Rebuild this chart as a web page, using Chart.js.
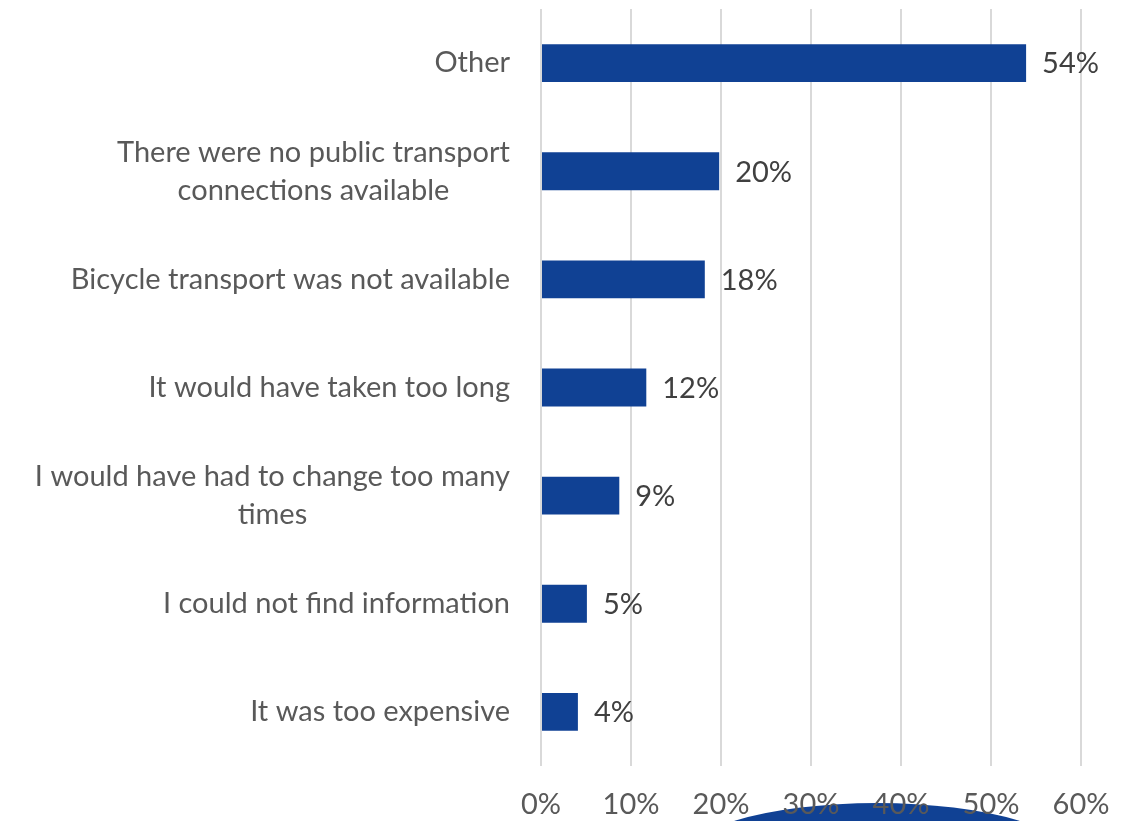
<!DOCTYPE html>
<html>
<head>
<meta charset="utf-8">
<script src="https://cdn.jsdelivr.net/npm/chart.js@4"></script>
<style>
  body { margin: 0; background: #fff; }
</style>
</head>
<body>
<canvas id="bar_chart" width="1135" height="821"></canvas>
<script>
// categories (top to bottom), multi-line ones split into arrays
const categories = [
    'Other',
    ['There were no public transport', 'connections available'],
    'Bicycle transport was not available',
    'It would have taken too long',
    ['I would have had to change too many', 'times'],
    'I could not find information',
    'It was too expensive'
];
const shares = [53.9, 19.8, 18.2, 11.7, 8.7, 5.1, 4.1];
const xTicks = [0, 10, 20, 30, 40, 50, 60];

const FONT = 'Lato, "Open Sans", sans-serif';
const barColor = 'rgb(16, 65, 148)';

// value labels next to each bar
const valueLabels = {
    id: 'valueLabels',
    afterDatasetsDraw(chart) {
        const ctx = chart.ctx;
        const meta = chart.getDatasetMeta(0);
        ctx.save();
        ctx.font = '29px ' + FONT;
        ctx.fillStyle = '#404040';
        ctx.textAlign = 'left';
        ctx.textBaseline = 'middle';
        meta.data.forEach((bar, i) => {
            ctx.fillText(Math.round(shares[i]) + '%', bar.x + 16, bar.y + 1);
        });
        ctx.restore();
    }
};

// category labels: block right-aligned to the axis, lines centred inside the block
const categoryLabels = {
    id: 'categoryLabels',
    afterDraw(chart) {
        const ctx = chart.ctx;
        const yScale = chart.scales.y;
        const right = chart.chartArea.left - 31;
        const lineH = 38;
        ctx.save();
        ctx.font = '29px ' + FONT;
        ctx.fillStyle = '#595959';
        ctx.textAlign = 'center';
        ctx.textBaseline = 'middle';
        categories.forEach((lab, i) => {
            const lines = Array.isArray(lab) ? lab : [lab];
            const w = Math.max(...lines.map(l => ctx.measureText(l).width));
            const cx = right - w / 2;
            const y0 = yScale.getPixelForTick(i) - (lines.length - 1) * lineH / 2;
            lines.forEach((l, j) => ctx.fillText(l, cx, y0 + j * lineH));
        });
        ctx.restore();
    }
};

// blue blob at the bottom edge of the original image
const bottomBlob = {
    id: 'bottomBlob',
    beforeDraw(chart) {
        const ctx = chart.ctx;
        ctx.save();
        ctx.fillStyle = barColor;
        ctx.beginPath();
        ctx.ellipse(877, 863, 200, 60, 0, 0, Math.PI * 2);
        ctx.fill();
        ctx.restore();
    }
};

new Chart(document.getElementById('bar_chart').getContext('2d'), {
    type: 'bar',
    data: {
        labels: categories,
        datasets: [{
            data: shares,
            backgroundColor: barColor,
            barPercentage: 0.35,
            categoryPercentage: 1
        }]
    },
    options: {
        indexAxis: 'y',
        responsive: false,
        animation: false,
        layout: { padding: { top: 9, right: 54, left: 0, bottom: 0 } },
        plugins: {
            legend: { display: false },
            tooltip: { enabled: false }
        },
        scales: {
            x: {
                min: 0,
                max: 60,
                afterBuildTicks(scale) {
                    scale.ticks = xTicks.map(v => ({ value: v }));
                },
                afterFit(scale) {
                    scale.height = 55;
                    scale.paddingLeft = 0;
                    scale.paddingRight = 0;
                },
                border: { display: false },
                grid: { color: '#d9d9d9', lineWidth: 2, drawTicks: false },
                ticks: {
                    padding: 21,
                    color: '#595959',
                    font: { size: 29, family: FONT },
                    callback: v => v + '%'
                }
            },
            y: {
                border: { display: false },
                grid: { display: false, drawTicks: false },
                afterFit(scale) {
                    scale.width = 541;
                    scale.paddingTop = 0;
                    scale.paddingBottom = 0;
                },
                ticks: { display: false }
            }
        }
    },
    plugins: [bottomBlob, valueLabels, categoryLabels]
});
</script>
</body>
</html>
